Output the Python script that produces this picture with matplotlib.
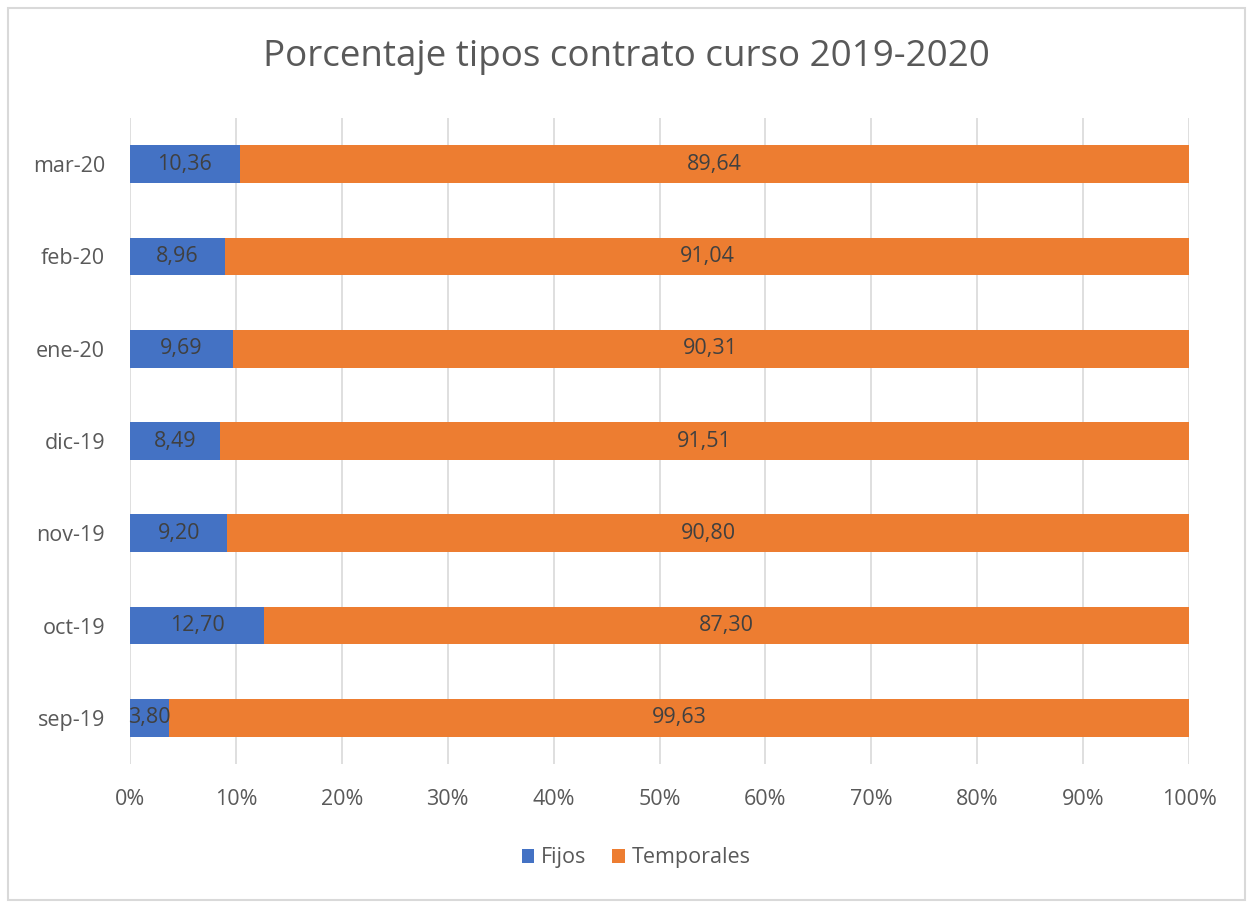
import matplotlib
matplotlib.use("Agg")
import matplotlib.pyplot as plt
from matplotlib.patches import Rectangle, Patch
import numpy as np

categories = ["sep-19", "oct-19", "nov-19", "dic-19", "ene-20", "feb-20", "mar-20"]
fijos = [3.80, 12.70, 9.20, 8.49, 9.69, 8.96, 10.36]
temporales = [99.63, 87.30, 90.80, 91.51, 90.31, 91.04, 89.64]
series_names = ["Fijos", "Temporales"]
xtick_labels = ["0%", "10%", "20%", "30%", "40%", "50%", "60%", "70%", "80%", "90%", "100%"]

plt.rcParams['font.family'] = ['Open Sans', 'DejaVu Sans']

W, H = 1253, 906
fig = plt.figure(figsize=(W/100, H/100), dpi=100)
fig.patches.append(Rectangle((8/W, 6/H), (1245-8)/W, (900-8)/H, transform=fig.transFigure,
                             fill=False, edgecolor="#d9d9d9", linewidth=1.5))

ax = fig.add_axes([130/W, 1-764/H, (1189-130)/W, (764-118)/H])

f = np.array(fijos); t = np.array(temporales)
tot = f + t
fp = f / tot * 100
tp = t / tot * 100
y = np.arange(len(categories))
blue = "#4472C4"; orange = "#ED7D31"
h = 0.41
ax.barh(y, fp, height=h, color=blue, zorder=3)
ax.barh(y, tp, left=fp, height=h, color=orange, zorder=3)

for i in range(len(categories)):
    ax.text(fp[i]/2, y[i], f"{fijos[i]:.2f}".replace(".", ","), ha="center", va="center",
            fontsize=15.5, color="#404040", zorder=4)
    ax.text(fp[i] + tp[i]/2, y[i], f"{temporales[i]:.2f}".replace(".", ","), ha="center", va="center",
            fontsize=15.5, color="#404040", zorder=4)

ax.set_xlim(0, 100)
ax.set_ylim(-0.5, len(categories)-0.5)
ax.set_xticks(np.arange(0, 101, 10))
ax.set_xticklabels(xtick_labels, fontsize=15.5, color="#595959")
ax.set_yticks(y)
ax.set_yticklabels(categories, fontsize=15.5, color="#595959")
ax.tick_params(length=0, pad=18, axis="x")
ax.tick_params(length=0, pad=18, axis="y")
ax.grid(axis="x", color="#d9d9d9", linewidth=1.2, zorder=0)
for s in ax.spines.values():
    s.set_visible(False)

fig.text(0.5, 1-57/H, "Porcentaje tipos contrato curso 2019-2020", ha="center", va="center",
         fontsize=26.5, color="#595959")

handles = [Patch(facecolor=blue), Patch(facecolor=orange)]
fig.legend(handles, series_names, loc="center", bbox_to_anchor=(636/W, 1-858/H), ncol=2,
           frameon=False, fontsize=15.5, labelcolor="#595959", handlelength=0.6, handleheight=0.6,
           handletextpad=0.3, columnspacing=1.2)

fig.savefig("out.png", dpi=100)
